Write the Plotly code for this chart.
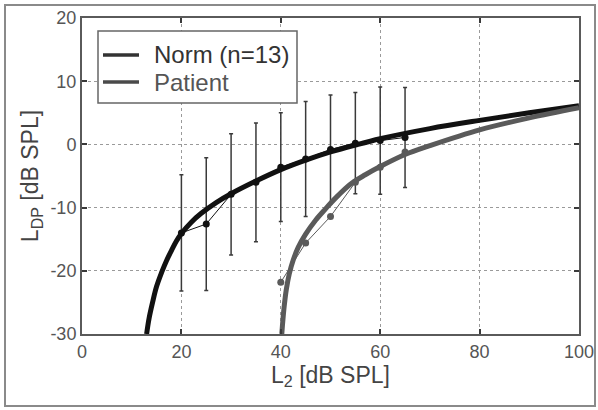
import plotly.graph_objects as go

# ---- data ----
levels_norm = [20, 25, 30, 35, 40, 45, 50, 55, 60, 65]
ldp_norm = [-14.0, -12.6, -7.9, -6.0, -3.6, -2.3, -0.8, 0.2, 0.6, 1.1]
sd_norm = [9.2, 10.5, 9.6, 9.4, 8.6, 9.1, 8.6, 8.0, 8.5, 7.9]

levels_patient = [40, 45, 50, 55, 60, 65]
ldp_patient = [-21.8, -15.6, -11.4, -6.0, -3.6, -1.2]

fit_norm_x = [13.0, 13.5, 14.2, 15.0, 16.0, 17.0, 18.0, 19.0, 20.0, 22.0, 24.0, 27.0,
              30.0, 35.0, 40.0, 45.0, 50.0, 55.0, 60.0, 70.0, 80.0, 90.0, 100.0]
fit_norm_y = [-30.0, -27.5, -25.0, -22.5, -20.3, -18.4, -16.8, -15.3, -14.1, -12.3, -10.9, -9.2,
              -7.8, -5.8, -4.0, -2.5, -1.2, -0.1, 0.9, 2.5, 3.8, 5.0, 6.1]

fit_pat_x = [40.2, 40.4, 40.7, 41.1, 41.7, 42.5, 43.5, 45.0, 47.0, 49.0, 51.0, 54.0,
             57.0, 60.0, 65.0, 70.0, 80.0, 90.0, 100.0]
fit_pat_y = [-30.0, -28.0, -25.5, -23.0, -20.5, -18.3, -16.3, -14.2, -12.0, -10.2, -8.5, -6.3,
             -4.8, -3.5, -1.6, -0.2, 2.3, 4.2, 5.8]

x_ticks = [0, 20, 40, 60, 80, 100]
y_ticks = [-30, -20, -10, 0, 10, 20]
legend_labels = ["Norm (n=13)", "Patient"]

FONT = "Liberation Sans, Arial, sans-serif"
C_NORM = "#111111"
C_PAT = "#5a5a5a"

fig = go.Figure()

# norm data with error bars
fig.add_trace(go.Scatter(
    x=levels_norm, y=ldp_norm, mode="lines+markers",
    line=dict(color=C_NORM, width=1),
    marker=dict(color=C_NORM, size=7),
    error_y=dict(type="data", array=sd_norm, visible=True, color="#3a3a3a", thickness=1.5, width=2),
    showlegend=False, hoverinfo="skip"))

# patient data
fig.add_trace(go.Scatter(
    x=levels_patient, y=ldp_patient, mode="lines+markers",
    line=dict(color=C_PAT, width=1),
    marker=dict(color=C_PAT, size=7),
    showlegend=False, hoverinfo="skip"))

# fitted curves
fig.add_trace(go.Scatter(
    x=fit_norm_x, y=fit_norm_y, mode="lines", name=legend_labels[0], showlegend=False,
    line=dict(color=C_NORM, width=5, shape="spline", smoothing=1.0)))
fig.add_trace(go.Scatter(
    x=fit_pat_x, y=fit_pat_y, mode="lines", name=legend_labels[1], showlegend=False,
    line=dict(color=C_PAT, width=5, shape="spline", smoothing=1.0)))

# geometry helpers (pixels -> paper)
L, R, T, B = 82, 19, 18, 76
W, H = 598, 410
pw, ph = W - L - R, H - T - B
def px2x(px):
    return (px - L) / pw
def py2y(py):
    return (H - B - py) / ph

# outer frame around the whole figure
fig.add_shape(type="rect", xref="paper", yref="paper",
              x0=px2x(5), x1=px2x(595), y0=py2y(406), y1=py2y(5),
              line=dict(color="#8a8a8a", width=2), layer="below")

# legend box (drawn by hand for MATLAB-like spacing)
fig.add_shape(type="rect", xref="paper", yref="paper",
              x0=px2x(98), x1=px2x(297), y0=py2y(103), y1=py2y(31),
              line=dict(color="#666666", width=1.5), fillcolor="white", layer="above")
leg_rows = [55, 82]
leg_colors = ["#333333", "#4a4a4a"]
leg_text_colors = ["#333333", "#555555"]
for row, col, tcol, lab in zip(leg_rows, leg_colors, leg_text_colors, legend_labels):
    fig.add_shape(type="line", xref="paper", yref="paper",
                  x0=px2x(103), x1=px2x(139), y0=py2y(row), y1=py2y(row),
                  line=dict(color=col, width=3.5), layer="above")
    fig.add_annotation(xref="paper", yref="paper", x=px2x(152), y=py2y(row),
                       xanchor="left", yanchor="middle", showarrow=False, text=lab,
                       font=dict(family=FONT, size=24, color=tcol))

axis_common = dict(
    showline=True, linecolor="#5a5a5a", linewidth=2, mirror="allticks",
    ticks="inside", ticklen=5, tickcolor="#3a3a3a", tickwidth=1.5,
    showgrid=True, gridcolor="#9a9a9a", gridwidth=1, griddash="3px,3px",
    zeroline=False, automargin=False,
    tickfont=dict(family=FONT, size=18, color="#555555"),
)

fig.update_layout(
    width=W, height=H, autosize=False,
    margin=dict(l=L, r=R, t=T, b=B),
    paper_bgcolor="white", plot_bgcolor="white",
    font=dict(family=FONT, color="#444444"),
    xaxis=dict(range=[0, 100], tickvals=x_ticks, ticktext=[str(v) for v in x_ticks],
               title=dict(text="L<sub>2</sub> [dB SPL]", font=dict(family=FONT, size=23, color="#444444"),
                          standoff=4),
               **axis_common),
    yaxis=dict(range=[-30, 20], tickvals=y_ticks, ticktext=[str(v) for v in y_ticks],
               title=dict(text="L<sub>DP</sub> [dB SPL]", font=dict(family=FONT, size=23, color="#444444"),
                          standoff=5),
               ticklabelstandoff=0,
               **axis_common),
    showlegend=False,
)

fig.write_html("out.html", config={"displayModeBar": False, "responsive": False},
               post_script="document.body.style.margin='0';document.body.style.overflow='hidden';")
